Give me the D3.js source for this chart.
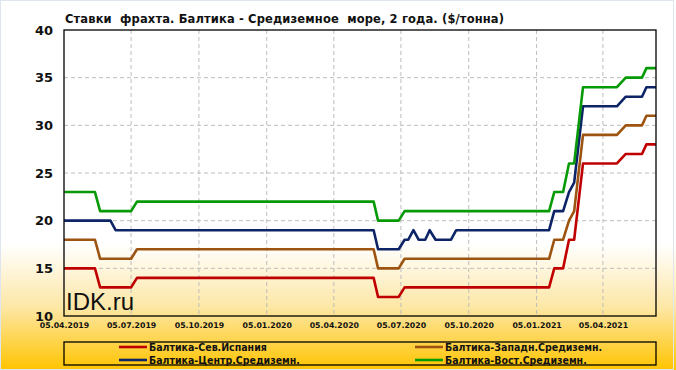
<!DOCTYPE html>
<html>

<head>
    <script type="text/javascript" src="https://cdnjs.cloudflare.com/ajax/libs/d3/7.8.5/d3.min.js"></script>
    <style>
        body {
            margin: 0;
            background: white;
        }

        svg text {
            font-family: "DejaVu Sans", Verdana, sans-serif;
            font-weight: bold;
            fill: #111;
        }
    </style>
</head>

<body>
    <script>
        var title = 'Ставки  фрахта. Балтика - Средиземное  море, 2 года. ($/тонна)';

        var dates = ['2019-04-05', '2019-05-17', '2019-05-24', '2019-06-07', '2019-06-14', '2019-07-05',
            '2019-07-13', '2020-05-29', '2020-06-04', '2020-07-02', '2020-07-10', '2020-07-15',
            '2020-07-22', '2020-07-29', '2020-08-07', '2020-08-13', '2020-08-21', '2020-09-11',
            '2020-09-18', '2021-01-22', '2021-01-29', '2021-02-10', '2021-02-18', '2021-02-25',
            '2021-03-09', '2021-04-24', '2021-05-06', '2021-05-28', '2021-06-03', '2021-06-16'];

        var spain = [15, 15, 13, 13, 13, 13, 14, 14, 12, 12, 13, 13, 13, 13, 13, 13, 13, 13, 13, 13,
            15, 15, 18, 18, 26, 26, 27, 27, 28, 28];
        var west = [18, 18, 16, 16, 16, 16, 17, 17, 15, 15, 16, 16, 16, 16, 16, 16, 16, 16, 16, 16,
            18, 18, 20, 21, 29, 29, 30, 30, 31, 31];
        var central = [20, 20, 20, 20, 19, 19, 19, 19, 17, 17, 18, 18, 19, 18, 18, 19, 18, 18, 19, 19,
            21, 21, 23, 24, 32, 32, 33, 33, 34, 34];
        var east = [23, 23, 21, 21, 21, 21, 22, 22, 20, 20, 21, 21, 21, 21, 21, 21, 21, 21, 21, 21,
            23, 23, 26, 26, 34, 34, 35, 35, 36, 36];

        var seriesNames = ['Балтика-Сев.Испания', 'Балтика-Западн.Средиземн.',
            'Балтика-Центр.Средиземн.', 'Балтика-Вост.Средиземн.'];
        var seriesColors = ['#c00000', '#9c5410', '#0d2466', '#069a06'];
        var seriesValues = [spain, west, central, east];

        var xTicks = ['2019-04-05', '2019-07-05', '2019-10-05', '2020-01-05', '2020-04-05',
            '2020-07-05', '2020-10-05', '2021-01-05', '2021-04-05'];
        var yTicks = [10, 15, 20, 25, 30, 35, 40];

        var W = 676, H = 370;
        var plot = { left: 64, right: 656, top: 30, bottom: 316 };
        var parse = d3.timeParse('%Y-%m-%d');
        var fmt = d3.timeFormat('%d.%m.%Y');

        var x = d3.scaleTime()
            .domain([parse('2019-04-05'), parse('2021-06-16')])
            .range([plot.left, plot.right]);
        var y = d3.scaleLinear()
            .domain([10, 40])
            .range([plot.bottom, plot.top]);

        var svg = d3.select('body').append('svg')
            .attr('width', W)
            .attr('height', H);

        var grad = svg.append('defs').append('linearGradient')
            .attr('id', 'bg')
            .attr('x1', 0).attr('y1', 0).attr('x2', 0).attr('y2', 1);
        grad.append('stop').attr('offset', '0.66').attr('stop-color', '#ffffff');
        grad.append('stop').attr('offset', '0.83').attr('stop-color', '#fde7a6');
        grad.append('stop').attr('offset', '1').attr('stop-color', '#ffc400');

        svg.append('rect')
            .attr('width', W).attr('height', H)
            .attr('fill', 'url(#bg)');
        svg.append('rect')
            .attr('x', 0.5).attr('y', 0.5)
            .attr('width', W - 3).attr('height', H - 1)
            .attr('fill', 'none')
            .attr('stroke', '#dfe5ee');

        svg.append('text')
            .attr('x', 65).attr('y', 23)
            .attr('textLength', 439)
            .attr('lengthAdjust', 'spacing')
            .style('font-size', '11.5px')
            .style('white-space', 'pre')
            .text(title);

        // grid
        svg.append('g')
            .selectAll('line')
            .data(yTicks.slice(1, -1))
            .enter().append('line')
            .attr('x1', plot.left).attr('x2', plot.right)
            .attr('y1', function(d) { return y(d); })
            .attr('y2', function(d) { return y(d); })
            .attr('stroke', '#bdbdbd')
            .attr('stroke-dasharray', '4,3');

        svg.append('g')
            .selectAll('line')
            .data(xTicks.slice(1))
            .enter().append('line')
            .attr('x1', function(d) { return x(parse(d)); })
            .attr('x2', function(d) { return x(parse(d)); })
            .attr('y1', plot.top).attr('y2', plot.bottom)
            .attr('stroke', '#bdbdbd')
            .attr('stroke-dasharray', '4,3');

        // axes labels
        var yAxis = d3.axisLeft(y).tickValues(yTicks).tickSize(0).tickPadding(11);
        svg.append('g')
            .attr('transform', 'translate(' + plot.left + ',0)')
            .call(yAxis)
            .call(function(g) { g.select('.domain').remove(); })
            .selectAll('text')
            .style('font-size', '13px')
            .style('font-family', '"DejaVu Sans", Verdana, sans-serif')
            .attr('fill', '#111');

        var xAxis = d3.axisBottom(x)
            .tickValues(xTicks.map(parse))
            .tickFormat(fmt)
            .tickSize(0)
            .tickPadding(6);
        svg.append('g')
            .attr('transform', 'translate(0,' + plot.bottom + ')')
            .call(xAxis)
            .call(function(g) { g.select('.domain').remove(); })
            .selectAll('text')
            .style('font-size', '7.8px')
            .style('font-family', '"DejaVu Sans", Verdana, sans-serif')
            .attr('fill', '#111');

        svg.append('text')
            .attr('x', 66).attr('y', 310)
            .style('font-family', '"Liberation Sans", Arial, sans-serif')
            .style('font-weight', 'normal')
            .style('font-size', '24px')
            .attr('fill', '#1a1a1a')
            .text('IDK.ru');

        // lines
        var line = d3.line()
            .x(function(d) { return x(d.date); })
            .y(function(d) { return y(d.value); });

        seriesValues.forEach(function(vals, i) {
            var pts = dates.map(function(d, j) {
                return { date: parse(d), value: vals[j] };
            });
            svg.append('path')
                .datum(pts)
                .attr('d', line)
                .attr('fill', 'none')
                .attr('stroke', seriesColors[i])
                .attr('stroke-width', 2.6)
                .attr('stroke-linejoin', 'round');
        });

        svg.append('rect')
            .attr('x', plot.left).attr('y', plot.top)
            .attr('width', plot.right - plot.left)
            .attr('height', plot.bottom - plot.top)
            .attr('fill', 'none')
            .attr('stroke', 'black')
            .attr('stroke-width', 1.3);

        // legend
        svg.append('rect')
            .attr('x', 64).attr('y', 342)
            .attr('width', 592).attr('height', 23)
            .attr('fill', 'none')
            .attr('stroke', 'black')
            .attr('stroke-width', 1.3);

        var legendPos = [[119, 347], [415, 347], [119, 360], [415, 360]];
        var legend = svg.append('g')
            .selectAll('g')
            .data(seriesNames)
            .enter().append('g')
            .attr('transform', function(d, i) {
                return 'translate(' + legendPos[i][0] + ',' + legendPos[i][1] + ')';
            });
        legend.append('line')
            .attr('x1', 0).attr('x2', 28)
            .attr('stroke', function(d, i) { return seriesColors[i]; })
            .attr('stroke-width', 2.6);
        legend.append('text')
            .attr('x', 30).attr('dy', '0.36em')
            .style('font-size', '10.5px')
            .style('font-family', '"DejaVu Sans Condensed", "DejaVu Sans", sans-serif')
            .text(function(d) { return d; });
    </script>
</body>

</html>
